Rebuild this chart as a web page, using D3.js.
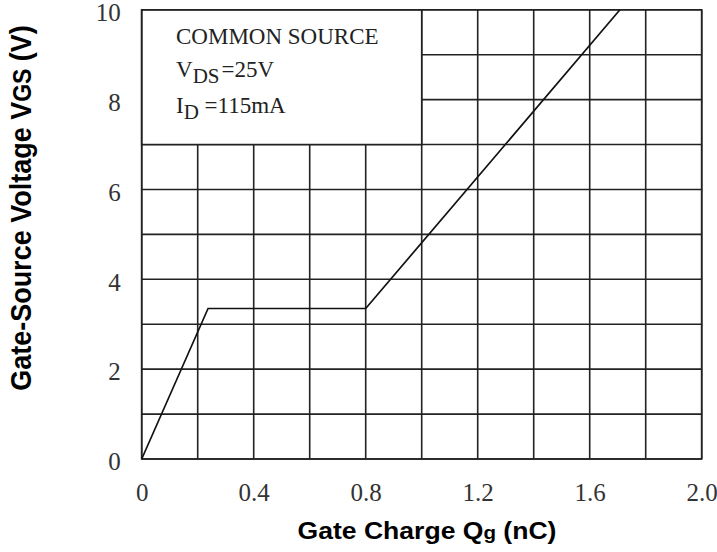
<!DOCTYPE html>
<html><head><meta charset="utf-8">
<script src="https://cdn.jsdelivr.net/npm/d3@7"></script>
<style>body{margin:0;background:#fff;}svg{display:block;}</style>
</head><body>
<svg id="c" width="717" height="552"></svg>
<script>
const curveQ = [0, 0.237, 0.80, 1.708];
const curveV = [0, 3.35, 3.35, 10];
const xTicks = [0, 0.4, 0.8, 1.2, 1.6, 2.0];
const xTickLabels = ["0", "0.4", "0.8", "1.2", "1.6", "2.0"];
const yTicks = [0, 2, 4, 6, 8, 10];
const yTickLabels = ["0", "2", "4", "6", "8", "10"];
const xGrid = d3.range(0, 2.0001, 0.2);
const yGrid = d3.range(0, 10.0001, 1);
const legendLines = ["COMMON SOURCE", "V|DS|=25V", "I|D| =115mA"];

const svg = d3.select("#c");
const L = 141.7, R = 701.7, T = 9.8, B = 459;
const x = d3.scaleLinear().domain([0, 2]).range([L, R]);
const y = d3.scaleLinear().domain([0, 10]).range([B, T]);
const ink = "#222";
const serif = "Liberation Serif, Times New Roman, serif";
const sans = "Liberation Sans, Arial, sans-serif";

// grid
svg.append("g").selectAll("line").data(xGrid).join("line")
  .attr("x1", d => x(d)).attr("x2", d => x(d)).attr("y1", T).attr("y2", B)
  .attr("stroke", ink).attr("stroke-width", 1.6);
svg.append("g").selectAll("line").data(yGrid).join("line")
  .attr("x1", L).attr("x2", R).attr("y1", d => y(d)).attr("y2", d => y(d))
  .attr("stroke", ink).attr("stroke-width", 1.6);

// legend box
svg.append("rect").attr("x", x(0)).attr("y", y(10)).attr("width", x(1.0) - x(0)).attr("height", y(7) - y(10))
  .attr("fill", "#fff").attr("stroke", ink).attr("stroke-width", 1.6);

// border
svg.append("rect").attr("x", L).attr("y", T).attr("width", R - L).attr("height", B - T)
  .attr("fill", "none").attr("stroke", ink).attr("stroke-width", 1.6);

// legend text
const lg = svg.append("g").attr("font-family", serif).attr("font-size", 23).attr("fill", "#222");
const lgY = [44, 77, 113];
legendLines.forEach((s, i) => {
  const parts = s.split("|");
  const t = lg.append("text").attr("x", 176).attr("y", lgY[i]);
  t.append("tspan").text(parts[0]);
  if (parts.length > 1) {
    t.append("tspan").attr("dy", 6).attr("font-size", 21).text(parts[1]);
    t.append("tspan").attr("dy", -6).attr("dx", i === 1 ? 2 : 0).text(parts[2]);
  }
});

// curve
const pts = curveQ.map((q, i) => [q, curveV[i]]);
svg.append("path").datum(pts)
  .attr("d", d3.line().x(d => x(d[0])).y(d => y(d[1])))
  .attr("fill", "none").attr("stroke", "#111").attr("stroke-width", 1.7);

// tick labels via axes
const xAxis = d3.axisBottom(x).tickValues(xTicks).tickSize(0).tickPadding(0)
  .tickFormat((d, i) => xTickLabels[i]);
const gx = svg.append("g").attr("transform", `translate(0,${B + 24})`).call(xAxis);
gx.select(".domain").remove();
gx.selectAll("text").attr("font-family", serif).attr("font-size", 25).attr("fill", "#333").attr("dy", "0.71em");

const yAxis = d3.axisLeft(y).tickValues(yTicks).tickSize(0).tickPadding(0)
  .tickFormat((d, i) => yTickLabels[i]);
const gy = svg.append("g").attr("transform", `translate(${L - 21},0)`).call(yAxis);
gy.select(".domain").remove();
gy.selectAll("text").attr("font-family", serif).attr("font-size", 25).attr("fill", "#333").attr("dy", "0.43em");

// axis titles
const xt = svg.append("text").attr("transform", "translate(427,539) scale(1.14,1)").attr("text-anchor", "middle")
  .attr("font-family", sans).attr("font-weight", "bold").attr("font-size", 23.3).attr("fill", "#000");
xt.append("tspan").text("Gate Charge Q");
xt.append("tspan").attr("font-size", 18).text("g");
xt.append("tspan").text(" (nC)");

const yt = svg.append("text").attr("transform", "translate(31,208) rotate(-90) scale(1,1.1)").attr("text-anchor", "middle")
  .attr("font-family", sans).attr("font-weight", "bold").attr("font-size", 27).attr("fill", "#000");
yt.append("tspan").text("Gate-Source Voltage V");
yt.append("tspan").attr("font-size", 23).text("GS");
yt.append("tspan").text(" (V)");
</script>
</body></html>
